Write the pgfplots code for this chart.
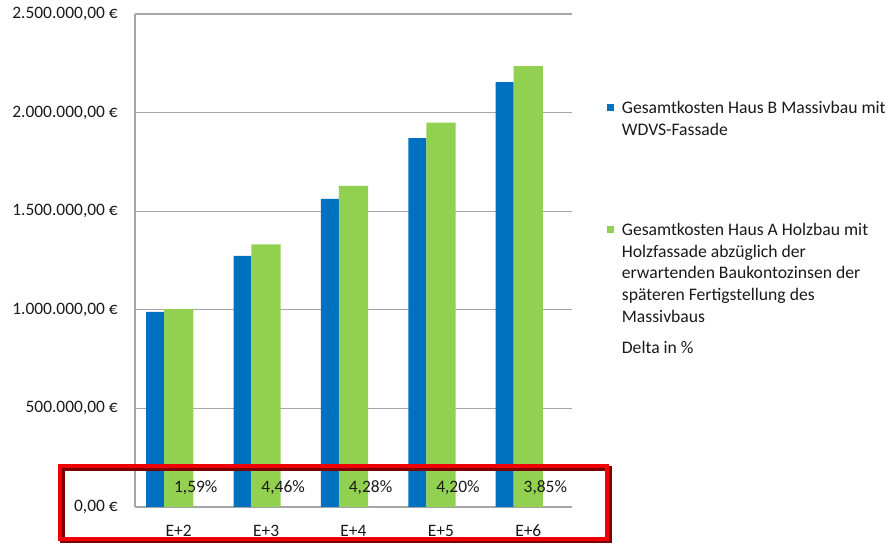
\documentclass[border=0pt]{standalone}
\usepackage{pgfplots}
\pgfplotsset{compat=1.18}
\usepackage{fontspec}
\setmainfont{Carlito}
\definecolor{cblue}{HTML}{0070C0}
\definecolor{cgreen}{HTML}{92D050}
\definecolor{cgrid}{HTML}{A6A6A6}
\definecolor{ctext}{HTML}{1A1A1A}
\definecolor{cred}{HTML}{F00000}
\definecolor{cdred}{HTML}{7A0000}
\begin{document}
\begin{tikzpicture}[x=1bp,y=1bp]
\begin{axis}[
  at={(0,0)}, anchor=south west,
  scale only axis,
  width=437bp, height=493bp,
  xmin=-0.5, xmax=4.5,
  ymin=0, ymax=2500000,
  axis x line*=bottom, axis y line*=left,
  axis line style={cgrid, line width=1.2bp, -},
  xtick={0,1,2,3,4},
  xticklabels={E+2,E+3,E+4,E+5,E+6},
  ytick={0,500000,1000000,1500000,2000000,2500000},
  yticklabels={{0,00 €},{500.000,00 €},{1.000.000,00 €},{1.500.000,00 €},{2.000.000,00 €},{2.500.000,00 €}},
  scaled y ticks=false,
  major tick length=0pt,
  ymajorgrids,
  grid style={cgrid, line width=1.2bp},
  tick label style={font=\fontsize{17.5}{21}\selectfont, text=ctext, inner sep=0pt},
  yticklabel shift=17bp,
  xticklabel shift=18bp,
  clip=false,
]
\addplot[ybar, bar width=0.205, bar shift=-0.27, fill=cblue, draw=none]
  coordinates {(0,990000) (1,1274000) (2,1562000) (3,1870000) (4,2154000)};
\addplot[ybar, bar width=0.335, bar shift=0, fill=cgreen, draw=none]
  coordinates {(0,1004000) (1,1332000) (2,1629000) (3,1949000) (4,2236000)};
\addplot[draw=none, mark=none, nodes near coords, point meta=explicit symbolic,
  every node near coord/.style={anchor=center, font=\fontsize{17.5}{21}\selectfont, text=ctext, inner sep=0pt}]
  coordinates {(0.195,100000) [{1,59\%}] (1.195,100000) [{4,46\%}] (2.195,100000) [{4,28\%}] (3.195,100000) [{4,20\%}] (4.195,100000) [{3,85\%}]};
\end{axis}
% legend
\fill[cblue] (471.5,396) rectangle (478.5,403);
\fill[cgreen] (471.5,274) rectangle (478.5,281);
\begin{scope}[every node/.style={anchor=base west, inner sep=0pt, text=ctext, font=\fontsize{17.7}{21.7}\selectfont}]
\node at (486.7,393.5) {Gesamtkosten Haus B Massivbau mit};
\node at (486.7,371.5) {WDVS-Fassade};
\node at (486.7,271.5) {Gesamtkosten Haus A Holzbau mit};
\node at (486.7,249.5) {Holzfassade abzüglich der};
\node at (486.7,228.5) {erwartenden Baukontozinsen der};
\node at (486.7,206.5) {späteren Fertigstellung des};
\node at (486.7,184.5) {Massivbaus};
\node at (486.7,153.5) {Delta in \%};
\end{scope}
% red frame
\draw[cdred, line width=5bp] (-72,-34) rectangle (474,38.5);
\draw[cred, line width=4bp] (-74.5,-32) rectangle (471.5,41);
\useasboundingbox (-135,-36) rectangle (753,507);
\end{tikzpicture}
\end{document}
